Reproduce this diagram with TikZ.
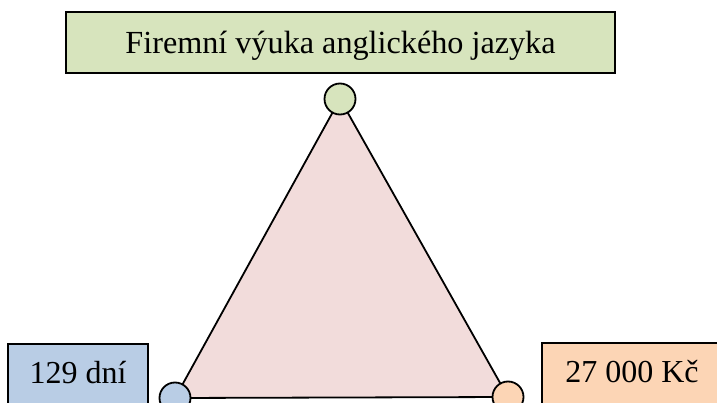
\documentclass[tikz,border=0pt]{standalone}
\usepackage{fontspec}
\setmainfont{Liberation Serif}
\definecolor{greenfill}{HTML}{D7E4BD}
\definecolor{bluefill}{HTML}{B9CDE5}
\definecolor{orangefill}{HTML}{FCD5B5}
\definecolor{pinkfill}{HTML}{F2DCDB}
\begin{document}
\begin{tikzpicture}[x=1pt,y=-1pt,
  titlebox/.style={draw=black, line width=2.4pt, fill=greenfill, minimum width=549pt, minimum height=61pt, inner sep=0pt, text height=22pt, text depth=0pt, font=\fontsize{32.2}{36}\selectfont},
  sidebox/.style={draw=black, line width=1.7pt, anchor=north, inner xsep=0pt, inner ysep=18pt, text height=22pt, text depth=40pt, font=\fontsize{32}{36}\selectfont},
  dot/.style={draw=black, line width=1.8pt, circle, minimum size=31pt, inner sep=0pt},
  tri/.style={draw=black, line width=1.8pt, fill=pinkfill, line join=miter}
]
\useasboundingbox (0,0) rectangle (717,403);
\node[titlebox] (title) at (340.5,42.5) {Firemní výuka anglického jazyka};
\node[sidebox, fill=bluefill, minimum width=140pt] (days) at (78,343) {129 dní};
\node[sidebox, fill=orangefill, minimum width=180pt] (cost) at (632,342) {27 000 Kč};
\coordinate (pt) at (340,99);
\coordinate (pl) at (175,398);
\coordinate (pr) at (508,397);
\draw[tri] (pt) -- (pl) -- (pr) -- cycle;
\node[dot, fill=greenfill] (ctop) at (pt) {};
\node[dot, fill=bluefill] (cleft) at (pl) {};
\node[dot, fill=orangefill] (cright) at (pr) {};
\end{tikzpicture}
\end{document}
